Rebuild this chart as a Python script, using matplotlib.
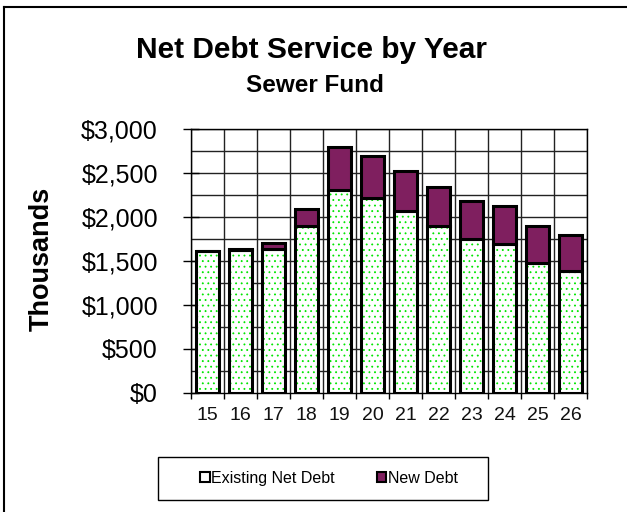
import numpy as np
import matplotlib
matplotlib.use("Agg")
import matplotlib.pyplot as plt
from matplotlib.patches import Patch, Rectangle
from matplotlib.lines import Line2D

plt.rcParams['font.family'] = ['Liberation Sans', 'DejaVu Sans']
plt.rcParams['hatch.linewidth'] = 0.6

# Debt service by fiscal year, in thousands of dollars
years = ['15', '16', '17', '18', '19', '20', '21', '22', '23', '24', '25', '26']
existing_debt = [1610, 1630, 1640, 1900, 2310, 2220, 2070, 1900, 1750, 1690, 1480, 1390]
new_debt = [0, 10, 70, 190, 480, 470, 450, 440, 430, 430, 420, 400]
y_ticks = [0, 500, 1000, 1500, 2000, 2500, 3000]
y_tick_labels = ['$0', '$500', '$1,000', '$1,500', '$2,000', '$2,500', '$3,000']

purple = '#7f1f5f'
dot_green = '#00e600'

fig = plt.figure(figsize=(6.27, 5.12), dpi=100)
ax = fig.add_axes([191/627, 1 - 393/512, 396/627, 264/512])

x = np.arange(len(years))
w = 0.68

# grid behind bars: horizontal every 250, vertical at category boundaries
for yv in np.arange(250, 3001, 250):
    ax.axhline(yv, color='#222222', lw=1.0, zorder=0)
for xv in np.arange(-0.5, len(years), 1.0):
    ax.axvline(xv, color='#222222', lw=1.0, zorder=0)

# existing debt: white with green dots, then black outline
ax.bar(x, existing_debt, w, color='white', edgecolor=dot_green, hatch='...',
       linewidth=0, zorder=2)
ax.bar(x, existing_debt, w, fill=False, edgecolor='black', linewidth=2.2, zorder=3)
# new debt stacked on top
ax.bar(x, new_debt, w, bottom=existing_debt, color=purple, edgecolor='black',
       linewidth=2.2, zorder=3)

ax.set_xlim(-0.5, len(years) - 0.5)
ax.set_ylim(0, 3000)
ax.set_yticks(y_ticks)
ax.set_yticklabels(y_tick_labels)
ax.tick_params(axis='y', direction='inout', length=11.5, width=1.0, pad=18,
               labelsize=18, colors='black')
ax.set_xticks(x)
ax.set_xticklabels(years)
ax.set_xticks(np.arange(-0.5, len(years), 1.0), minor=True)
ax.tick_params(axis='x', which='major', length=0, pad=10, labelsize=14,
               labelcolor='#111111')
ax.tick_params(axis='x', which='minor', direction='out', length=4, width=1.0)
for s in ax.spines.values():
    s.set_color('black')
    s.set_linewidth(1.0)

fig.text(311/627, 1 - 50/512, 'Net Debt Service by Year', ha='center', va='center',
         fontsize=21.5, fontweight='bold')
fig.text(315/627, 1 - 85/512, 'Sewer Fund', ha='center', va='center',
         fontsize=17.5, fontweight='bold')
fig.text(42/627, 1 - 259/512, 'Thousands', ha='center', va='center', rotation=90,
         fontsize=19.5, fontweight='bold')

# outer chart frame (left and top edges)
fig.add_artist(Line2D([4/627, 4/627], [0, 1 - 7/512], color='black', lw=1.5,
                      transform=fig.transFigure))
fig.add_artist(Line2D([4/627, 1], [1 - 7/512, 1 - 7/512], color='black', lw=1.5,
                      transform=fig.transFigure))

# legend box
fig.add_artist(Rectangle((158/627, 1 - 500/512), 330/627, 43/512, fill=False,
                         edgecolor='black', lw=1.0, transform=fig.transFigure))
handles = [Patch(facecolor='white', edgecolor='black', linewidth=1.5),
           Patch(facecolor=purple, edgecolor='black', linewidth=1.5)]
fig.legend(handles, ['Existing Net Debt', 'New Debt'], ncol=2,
           loc='center', bbox_to_anchor=(329/627, 1 - 478.5/512),
           frameon=False, fontsize=11.5,
           handlelength=0.6, handleheight=0.6, handletextpad=0.1,
           columnspacing=2.6)

fig.savefig('out.png', dpi=100)
